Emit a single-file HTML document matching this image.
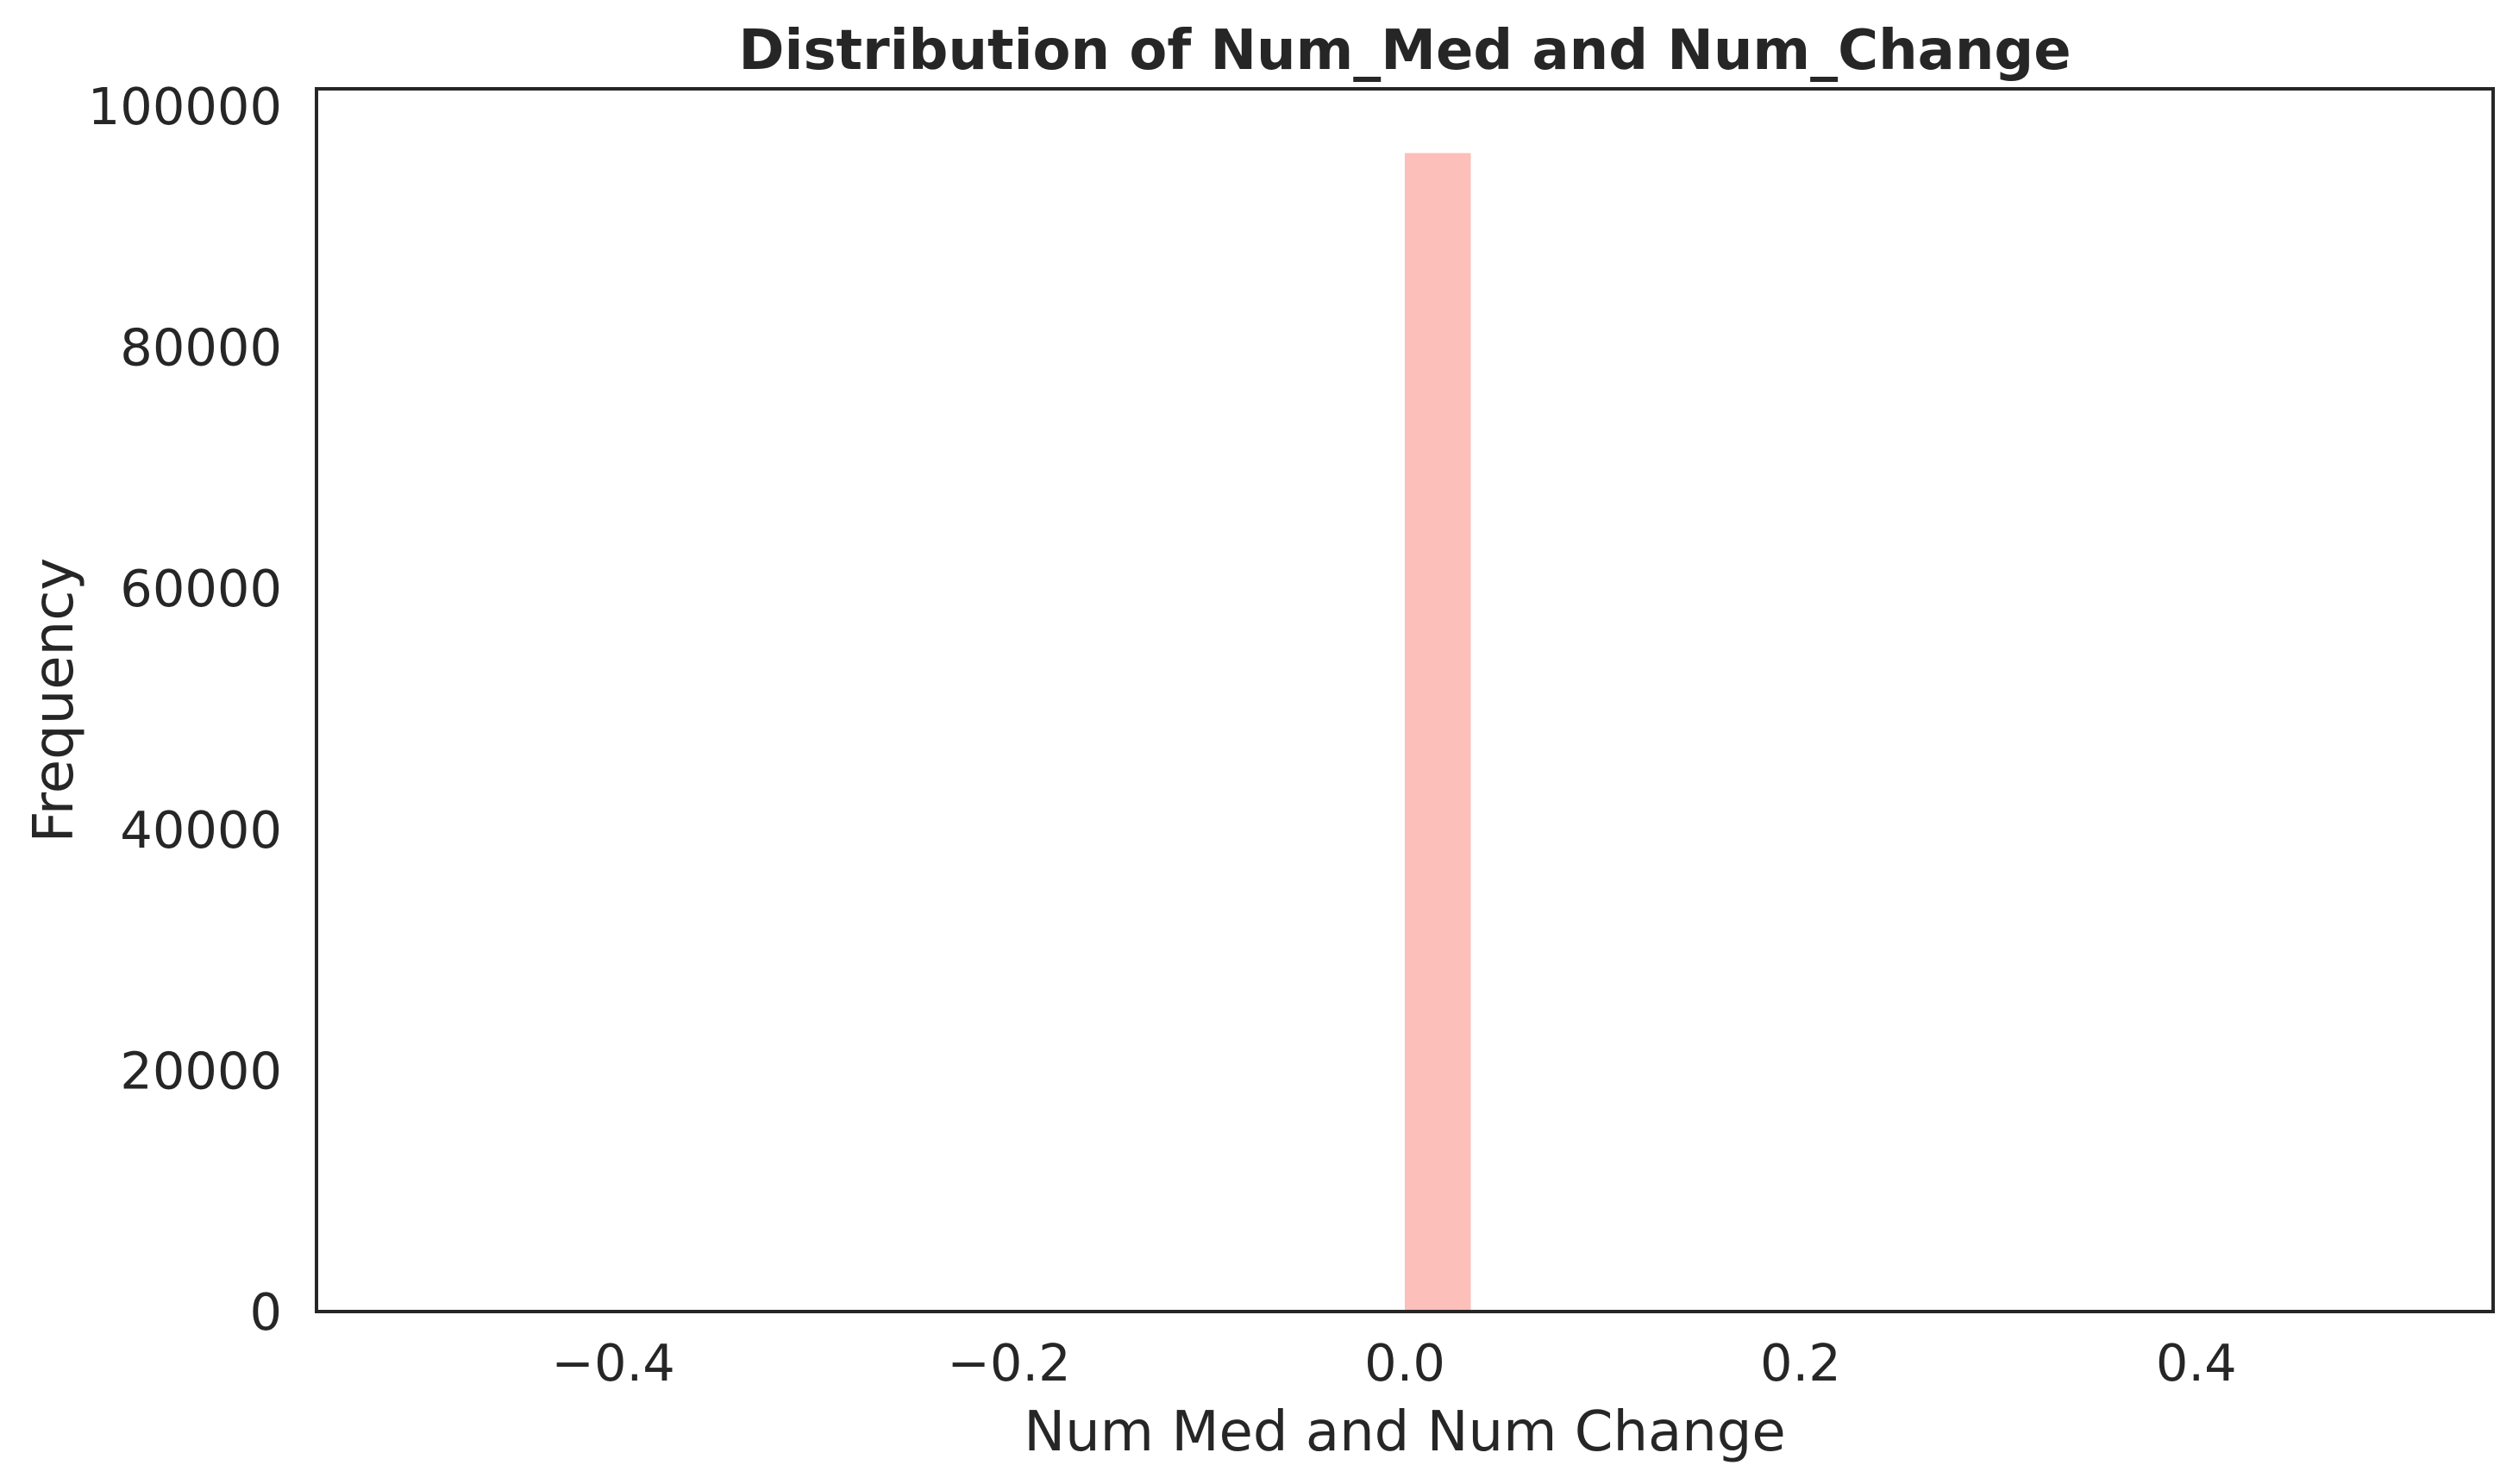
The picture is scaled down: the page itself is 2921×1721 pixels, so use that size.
<!DOCTYPE html>
<html><head><meta charset="utf-8"><style>
html,body{margin:0;padding:0;background:#fff;}
svg{display:block;font-family:"DejaVu Sans","Liberation Sans",sans-serif;}
</style></head><body>
<svg id="chart" width="2921" height="1721" xmlns="http://www.w3.org/2000/svg">
<rect width="2921" height="1721" fill="#fff"/>
<text x="1629" y="80" text-anchor="middle" font-size="64" font-weight="bold" fill="#262626">Distribution of Num_Med and Num_Change</text>
<text x="1629" y="1682" text-anchor="middle" font-size="64" fill="#262626">Num Med and Num Change</text>
<text transform="translate(84,812) rotate(-90)" text-anchor="middle" font-size="64" fill="#262626">Frequency</text>
<g id="bars"></g>
<g id="xticks"></g>
<g id="yticks"></g>
<rect x="367" y="103" width="2524" height="1418" fill="none" stroke="#262626" stroke-width="4"/>
</svg>
<script>
const binEdges = [0.0, 0.0333333];
const binCounts = [96100];
const xTickValues = [-0.4, -0.2, 0.0, 0.2, 0.4];
const xTickLabels = ["\u22120.4", "\u22120.2", "0.0", "0.2", "0.4"];
const yTickValues = [0, 20000, 40000, 60000, 80000, 100000];
const yTickLabels = ["0", "20000", "40000", "60000", "80000", "100000"];
const xMin = -0.55, xMax = 0.55, yMax = 101430;
const L = 367, R = 2891, T = 103, B = 1521;
function xs(v){return L + (v - xMin) / (xMax - xMin) * (R - L);}
function ys(v){return B - v / yMax * (B - T);}
const NS = "http://www.w3.org/2000/svg";
const bars = document.getElementById('bars');
binCounts.forEach((c, i) => {
  const r = document.createElementNS(NS, 'rect');
  const x0 = xs(binEdges[i]), x1 = xs(binEdges[i + 1]);
  r.setAttribute('x', x0); r.setAttribute('width', x1 - x0);
  r.setAttribute('y', ys(c)); r.setAttribute('height', ys(0) - ys(c));
  r.setAttribute('fill', '#fcbfb9');
  
  
  bars.appendChild(r);
});
const xg = document.getElementById('xticks');
xTickValues.forEach((v, i) => {
  const t = document.createElementNS(NS, 'text');
  t.setAttribute('x', xs(v)); t.setAttribute('y', 1601);
  t.setAttribute('text-anchor', 'middle'); t.setAttribute('font-size', '59'); t.setAttribute('fill', '#262626');
  t.textContent = xTickLabels[i];
  
  
  xg.appendChild(t);
});
const yg = document.getElementById('yticks');
yTickValues.forEach((v, i) => {
  const t = document.createElementNS(NS, 'text');
  t.setAttribute('x', 327); t.setAttribute('y', ys(v) + 21);
  t.setAttribute('text-anchor', 'end'); t.setAttribute('font-size', '59'); t.setAttribute('fill', '#262626');
  t.textContent = yTickLabels[i];
  
  
  yg.appendChild(t);
});
</script>
</body></html>
